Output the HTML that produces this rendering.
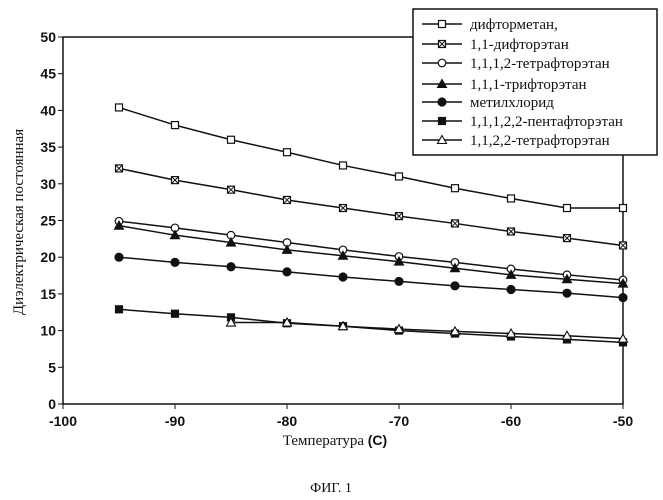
<!DOCTYPE html>
<html><head><meta charset="utf-8"><style>
body{margin:0;background:#fff}
svg{display:block}
.tk{font-family:"Liberation Sans",Arial,sans-serif;font-weight:bold;font-size:14px;fill:#111}
.sf{font-family:"Liberation Serif","DejaVu Serif",serif;fill:#111}
</style></head><body>
<svg id="chart" width="663" height="500" viewBox="0 0 663 500" xmlns="http://www.w3.org/2000/svg">
<g id="axes"></g>
<g id="series"></g>
<g id="legend"></g>
<text class="sf" font-size="15" transform="translate(23,222) rotate(-90)" text-anchor="middle">Диэлектрическая постоянная</text>
<text x="335" y="445" text-anchor="middle"><tspan class="sf" font-size="15">Температура </tspan><tspan class="tk" font-size="15">(C)</tspan></text>
<text class="sf" x="331" y="492" font-size="14" text-anchor="middle">ФИГ. 1</text>
</svg>
<script>
const xTicks=[-100,-90,-80,-70,-60,-50];
const yTicks=[0,5,10,15,20,25,30,35,40,45,50];
const temps=[-95,-90,-85,-80,-75,-70,-65,-60,-55,-50];
const names=["дифторметан,","1,1-дифторэтан","1,1,1,2-тетрафторэтан","1,1,1-трифторэтан","метилхлорид","1,1,1,2,2-пентафторэтан","1,1,2,2-тетрафторэтан"];
const s1=[40.4,38,36,34.3,32.5,31,29.4,28,26.7,26.7];
const s2=[32.1,30.5,29.2,27.8,26.7,25.6,24.6,23.5,22.6,21.6];
const s3=[24.9,24,23,22,21,20.1,19.3,18.4,17.6,16.9];
const s4=[24.3,23,22,21,20.2,19.4,18.5,17.6,17,16.4];
const s5=[20,19.3,18.7,18,17.3,16.7,16.1,15.6,15.1,14.5];
const s6=[12.9,12.3,11.8,11,10.6,10,9.6,9.2,8.8,8.4];
const s7=[null,null,11.1,11.1,10.6,10.2,9.9,9.6,9.3,8.9];
const NS="http://www.w3.org/2000/svg";
const X=v=>63+(v+100)*(623-63)/50;
const Y=v=>404-v*(404-37)/50;
function mk(p,t,a){const e=document.createElementNS(NS,t);for(const k in a)e.setAttribute(k,a[k]);p.appendChild(e);return e;}
const ax=document.getElementById('axes');
let l=mk(ax,'path',{d:`M${X(-100)},${Y(50)}H413M${X(-100)},${Y(50)}V${Y(0)}H${X(-50)}V155`,fill:'none',stroke:'#111','stroke-width':1.5});

xTicks.forEach(v=>{const t=mk(ax,'line',{x1:X(v),x2:X(v),y1:Y(0),y2:Y(0)+5,stroke:'#111'});

const tx=mk(ax,'text',{x:X(v),y:Y(0)+22,'text-anchor':'middle',class:'tk'});tx.textContent=v;
});
yTicks.forEach(v=>{const t=mk(ax,'line',{x1:X(-100)-5,x2:X(-100),y1:Y(v),y2:Y(v),stroke:'#111'});

const tx=mk(ax,'text',{x:X(-100)-7,y:Y(v)+5,'text-anchor':'end',class:'tk'});tx.textContent=v;
});
const styles=['sq-open','sq-x','circ-open','tri-fill','circ-fill','sq-fill','tri-open'];
function marker(g,kind,x,y){let e;
if(kind.startsWith('sq')){e=mk(g,'rect',{x:x-3.5,y:y-3.5,width:7,height:7,fill:kind==='sq-fill'?'#111':'#fff',stroke:'#111','stroke-width':1.2});
if(kind==='sq-x')mk(g,'path',{d:`M${x-3},${y-3}L${x+3},${y+3}M${x+3},${y-3}L${x-3},${y+3}`,stroke:'#111','stroke-width':1});}
else if(kind.startsWith('circ'))e=mk(g,'circle',{cx:x,cy:y,r:kind==='circ-fill'?4:3.8,fill:kind==='circ-fill'?'#111':'#fff',stroke:'#111','stroke-width':1.2});
else e=mk(g,'path',{d:`M${x},${y-4.5}L${x+4.5},${y+3.5}L${x-4.5},${y+3.5}Z`,fill:kind==='tri-fill'?'#111':'#fff',stroke:'#111','stroke-width':1.1});
}
const all=[s1,s2,s3,s4,s5,s6,s7];
const sg=document.getElementById('series');
all.forEach((s,i)=>{const g=mk(sg,'g',{});

const pts=[];s.forEach((v,j)=>{if(v!=null)pts.push([X(temps[j]),Y(v)]);});
const pl=mk(g,'polyline',{points:pts.map(p=>p.join(',')).join(' '),fill:'none',stroke:'#111','stroke-width':1.5});

pts.forEach(p=>marker(g,styles[i],p[0],p[1]));});
const lg=document.getElementById('legend');
const box=mk(lg,'rect',{x:413,y:9,width:244,height:146,fill:'#fff',stroke:'#111','stroke-width':1.5});

const rowsY=[24,44,63,84,102,121,140];
names.forEach((n,i)=>{const g=mk(lg,'g',{});

mk(g,'line',{x1:422,x2:462,y1:rowsY[i],y2:rowsY[i],stroke:'#111','stroke-width':1.5});
marker(g,styles[i],442,rowsY[i]);
const t=mk(g,'text',{x:470,y:rowsY[i]+5,class:'sf','font-size':15});t.textContent=n;});
</script>
</body></html>
